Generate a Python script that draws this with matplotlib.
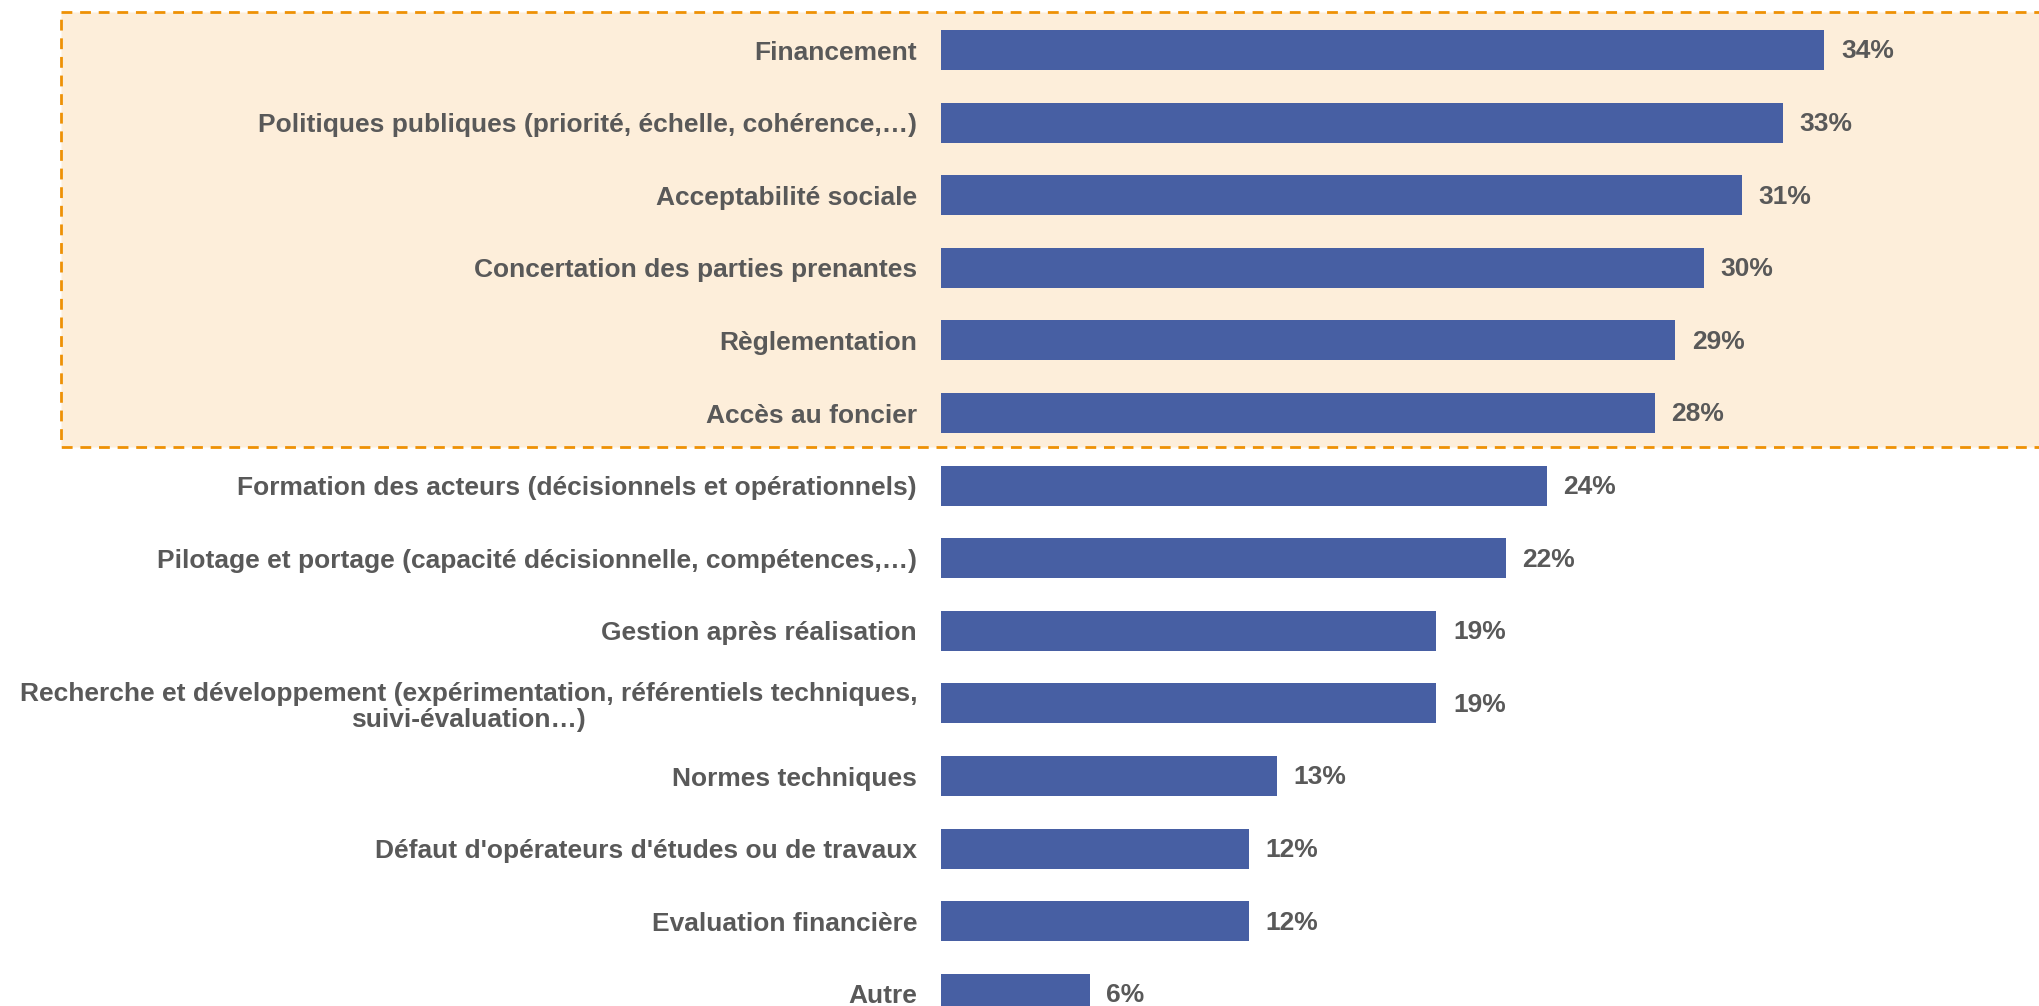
import matplotlib
matplotlib.use("Agg")
import matplotlib.pyplot as plt
import matplotlib.patches as mpatches
from matplotlib.transforms import blended_transform_factory

plt.rcParams['font.family'] = ['Liberation Sans', 'DejaVu Sans']

# Freins cités (part des répondants)
categories = [
    "Financement",
    "Politiques publiques (priorité, échelle, cohérence,…)",
    "Acceptabilité sociale",
    "Concertation des parties prenantes",
    "Règlementation",
    "Accès au foncier",
    "Formation des acteurs (décisionnels et opérationnels)",
    "Pilotage et portage (capacité décisionnelle, compétences,…)",
    "Gestion après réalisation",
    "Recherche et développement (expérimentation, référentiels techniques,\nsuivi-évaluation…)",
    "Normes techniques",
    "Défaut d'opérateurs d'études ou de travaux",
    "Evaluation financière",
    "Autre",
]
values = [34.4, 32.8, 31.2, 29.7, 28.6, 27.8, 23.6, 22.0, 19.3, 19.3, 13.1, 12.0, 12.0, 5.8]
value_labels = ["34%", "33%", "31%", "30%", "29%", "28%", "24%", "22%", "19%", "19%",
                "13%", "12%", "12%", "6%"]

# rows inside the highlighted block (top 6)
highlight_rows = (0, 5)

bar_color = "#475FA3"
text_color = "#595959"

fig = plt.figure(figsize=(20.4, 10.06), dpi=100)
ax = fig.add_axes([0.4611, 0.0, 0.5389, 1.0])

y = list(range(len(categories)))
ax.barh(y, values, height=0.55, color=bar_color, zorder=2)

ax.set_xlim(0, 42.8)
ax.set_ylim(13.168, -0.689)

for yi, v, lab in zip(y, values, value_labels):
    ax.annotate(lab, (v, yi), xytext=(12, -1), textcoords="offset points",
                va="center", ha="left", fontsize=19, fontweight="bold", color=text_color)

ax.set_yticks(y)
ax.set_yticklabels(categories, fontsize=19, fontweight="bold", color=text_color,
                   multialignment="center", linespacing=1.1)
ax.tick_params(axis="y", length=0, pad=17)
ax.set_xticks([])
for s in ax.spines.values():
    s.set_visible(False)
ax.patch.set_alpha(0)

# highlighted block behind the top rows
trans = blended_transform_factory(fig.transFigure, ax.transData)
top = highlight_rows[0] - 0.523
bottom = highlight_rows[1] + 0.468
box = mpatches.Rectangle((0.0299, top), 1.0, bottom - top, transform=trans,
                         facecolor="#FDEEDA", edgecolor="#EE9105", linewidth=2.0,
                         linestyle=(0, (3.9, 2.8)), zorder=0, clip_on=False)
ax.add_patch(box)

fig.savefig("out.png", dpi=100)
